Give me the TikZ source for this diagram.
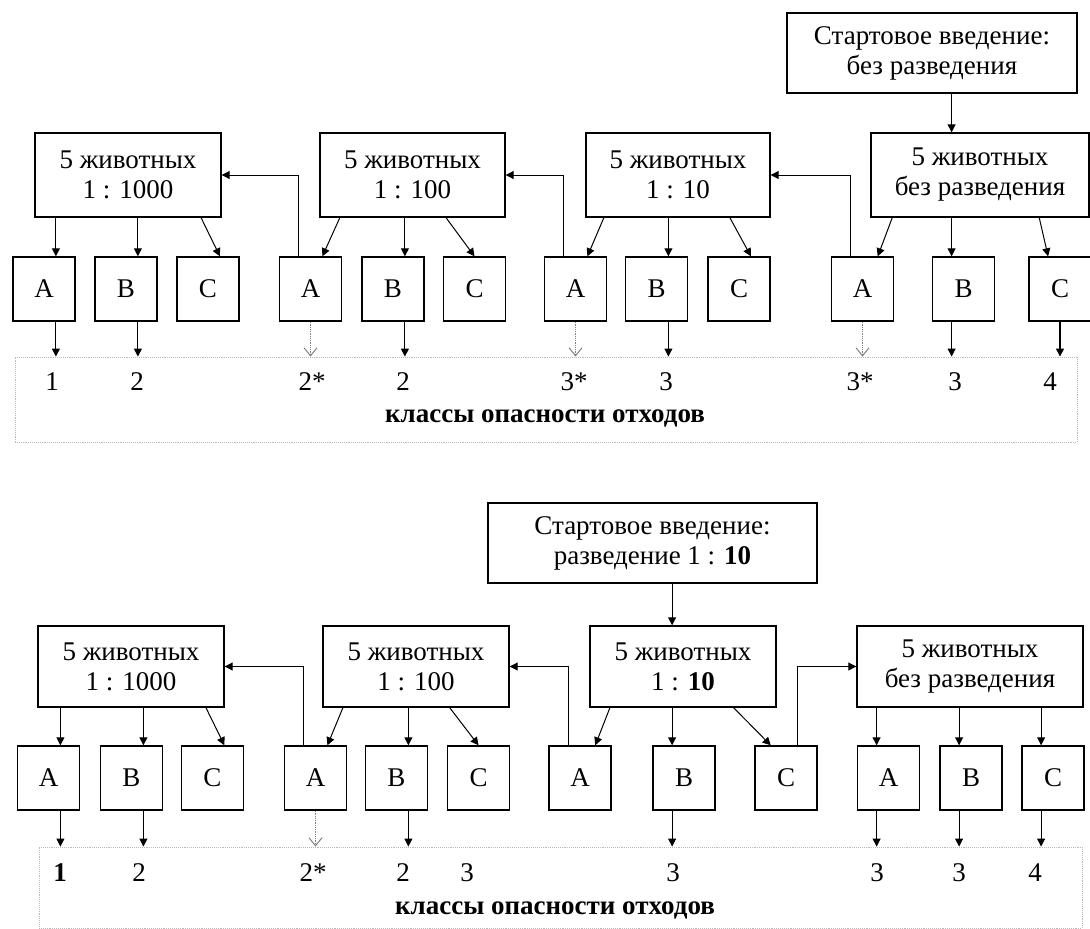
\documentclass[tikz,border=0pt]{standalone}
\usepackage{fontspec}
\setmainfont{Liberation Serif}
\usetikzlibrary{arrows.meta,calc}

\begin{document}
\begin{tikzpicture}[x=1pt, y=-1pt,
  every node/.style={font=\fontsize{27}{31}\selectfont},
  box/.style={draw, line width=1.4pt, inner sep=0pt, align=center, minimum height=84pt, font=\fontsize{27}{30}\selectfont},
  smallbox/.style={draw, line width=1.4pt, inner sep=0pt, minimum width=62pt, minimum height=64pt},
  classbox/.style={draw=gray!55, densely dotted, line width=0.9pt, inner sep=0pt},
  arr/.style={line width=1pt, -{Triangle[length=8pt,width=8pt]}},
  weak/.style={gray, densely dotted, line width=0.8pt, -{Straight Barb[length=8pt,width=13pt,line width=1pt]}}]

\useasboundingbox (0,0) rectangle (1090,929);

%%% top scheme
\node[box, minimum width=290pt, minimum height=80pt] (S1) at (932,53) {Стартовое введение:\\без разведения};
\node[box, minimum width=186pt] (G1) at (128,175) {5 животных\\1 : 1000};
\node[box, minimum width=185pt] (G2) at (412.5,175) {5 животных\\1 : 100};
\node[box, minimum width=184pt] (G3) at (678,175) {5 животных\\1 : 10};
\node[box, minimum width=218pt] (G4) at (980,175) {5 животных\\без разведения};

\node[smallbox] (A1) at (44,289) {A};
\node[smallbox] (B1) at (126,289) {B};
\node[smallbox] (C1) at (208,289) {C};
\node[smallbox] (A2) at (310.5,289) {A};
\node[smallbox] (B2) at (393,289) {B};
\node[smallbox] (C2) at (474.5,289) {C};
\node[smallbox] (A3) at (575.5,289) {A};
\node[smallbox] (B3) at (656.5,289) {B};
\node[smallbox] (C3) at (739,289) {C};
\node[smallbox] (A4) at (862.5,289) {A};
\node[smallbox] (B4) at (963.5,289) {B};
\node[smallbox] (C4) at (1060,289) {C};

\node[classbox, minimum width=1062pt, minimum height=85pt] (K1) at (546,399.5) {};
\node (K1t) at (545,418) {\bfseries классы опасности отходов};
\node (k11) at (52,382) {1};
\node (k12) at (137,382) {2};
\node (k13) at (312,382) {2*};
\node (k14) at (403,382) {2};
\node (k15) at (574,382) {3*};
\node (k16) at (666,382) {3};
\node (k17) at (860,382) {3*};
\node (k18) at (955,382) {3};
\node (k19) at (1050,382) {4};

\begin{scope}[arr]
\draw (S1.south -| B4.110) -- (G4.north -| B4.110); %S1-G4
\draw (G1.south -| A1.70) -- (A1.70); %G1-A1
\draw (G1.south -| B1.70) -- (B1.70); %G1-B1
\draw ($(G1.south west)!0.89!(G1.south east)$) -- (C1.70); %G1-C1
\draw ($(G2.south west)!0.11!(G2.south east)$) -- (A2.70); %G2-A2
\draw (G2.south -| B2.70) -- (B2.70); %G2-B2
\draw ($(G2.south west)!0.68!(G2.south east)$) -- (C2.north); %G2-C2
\draw ($(G3.south west)!0.10!(G3.south east)$) -- (A3.70); %G3-A3
\draw (G3.south -| B3.70) -- (B3.70); %G3-B3
\draw ($(G3.south west)!0.78!(G3.south east)$) -- (C3.70); %G3-C3
\draw ($(G4.south west)!0.10!(G4.south east)$) -- (A4.65); %G4-A4
\draw (G4.south -| B4.110) -- (B4.110); %G4-B4
\draw ($(G4.south west)!0.77!(G4.south east)$) -- (C4.110); %G4-C4
\draw (A2.110) |- (G1.east); %A2-G1
\draw (A3.110) |- (G2.east); %A3-G2
\draw (A4.110) |- (G3.east); %A4-G3
\draw (A1.-70) -- (A1.-70 |- K1.north);
\draw (B1.-70) -- (B1.-70 |- K1.north);
\draw (B2.-70) -- (B2.-70 |- K1.north);
\draw (B3.-70) -- (B3.-70 |- K1.north);
\draw (B4.-110) -- (B4.-110 |- K1.north);
\draw[line width=1.4pt] (C4.south) -- (C4.south |- K1.north);
\end{scope}

\begin{scope}[weak]
\draw (A2.south) -- (A2.south |- K1.north);
\draw (A3.south) -- (A3.south |- K1.north);
\draw (A4.south) -- (A4.south |- K1.north);
\end{scope}

%%% bottom scheme
\node[box, minimum width=329pt, minimum height=80pt] (S2) at (652.5,543) {Стартовое введение:\\разведение 1 : \textbf{10}};
\node[box, minimum width=186pt, minimum height=81pt] (H1) at (131,666.5) {5 животных\\1 : 1000};
\node[box, minimum width=186pt, minimum height=81pt] (H2) at (416,666.5) {5 животных\\1 : 100};
\node[box, minimum width=186pt, minimum height=81pt] (H3) at (683,666.5) {5 животных\\1 : \textbf{10}};
\node[box, minimum width=226pt, minimum height=81pt] (H4) at (970,666.5) {5 животных\\без разведения};

\node[smallbox] (D1) at (48.5,778) {A};
\node[smallbox] (E1) at (131.5,778) {B};
\node[smallbox] (F1) at (212.5,778) {C};
\node[smallbox] (D2) at (315.5,778) {A};
\node[smallbox] (E2) at (396.5,778) {B};
\node[smallbox] (F2) at (478.5,778) {C};
\node[smallbox] (D3) at (580,778) {A};
\node[smallbox] (E3) at (684,778) {B};
\node[smallbox] (F3) at (786,778) {C};
\node[smallbox] (D4) at (888.5,778) {A};
\node[smallbox] (E4) at (971,778) {B};
\node[smallbox] (F4) at (1053,778) {C};

\node[classbox, minimum width=1043pt, minimum height=81pt] (K2) at (560.5,887.5) {};
\node (K2t) at (555,910) {\bfseries классы опасности отходов};
\node (k21) at (60,873) {\textbf{1}};
\node (k22) at (139,873) {2};
\node (k23) at (313,873) {2*};
\node (k24) at (403,873) {2};
\node (k25) at (467,873) {3};
\node (k26) at (673,873) {3};
\node (k27) at (877,873) {3};
\node (k28) at (959,873) {3};
\node (k29) at (1035,873) {4};

\begin{scope}[arr]
\draw (S2.south -| E3.110) -- (H3.north -| E3.110); %S2-H3
\draw (H1.south -| D1.70) -- (D1.70); %H1-D1
\draw (H1.south -| E1.70) -- (E1.70); %H1-E1
\draw ($(H1.south west)!0.90!(H1.south east)$) -- (F1.70); %H1-F1
\draw ($(H2.south west)!0.11!(H2.south east)$) -- (D2.70); %H2-D2
\draw (H2.south -| E2.70) -- (E2.70); %H2-E2
\draw ($(H2.south west)!0.68!(H2.south east)$) -- (F2.north); %H2-F2
\draw ($(H3.south west)!0.11!(H3.south east)$) -- (D3.65); %H3-D3
\draw (H3.south -| E3.110) -- (E3.110); %H3-E3
\draw ($(H3.south west)!0.77!(H3.south east)$) -- (F3.115); %H3-F3
\draw (H4.south -| D4.110) -- (D4.110); %H4-D4
\draw (H4.south -| E4.110) -- (E4.110); %H4-E4
\draw (H4.south -| F4.110) -- (F4.110); %H4-F4
\draw (D2.110) |- (H1.east); %D2-H1
\draw (D3.110) |- (H2.east); %D3-H2
\draw (F3.70) |- (H4.west); %F3-H4
\draw (D1.-70) -- (D1.-70 |- K2.north);
\draw (E1.-70) -- (E1.-70 |- K2.north);
\draw (E2.-70) -- (E2.-70 |- K2.north);
\draw (E3.-110) -- (E3.-110 |- K2.north);
\draw (D4.-110) -- (D4.-110 |- K2.north);
\draw (E4.-110) -- (E4.-110 |- K2.north);
\draw (F4.-110) -- (F4.-110 |- K2.north);
\end{scope}

\draw[weak] (D2.south) -- (D2.south |- K2.north);

\end{tikzpicture}
\end{document}
